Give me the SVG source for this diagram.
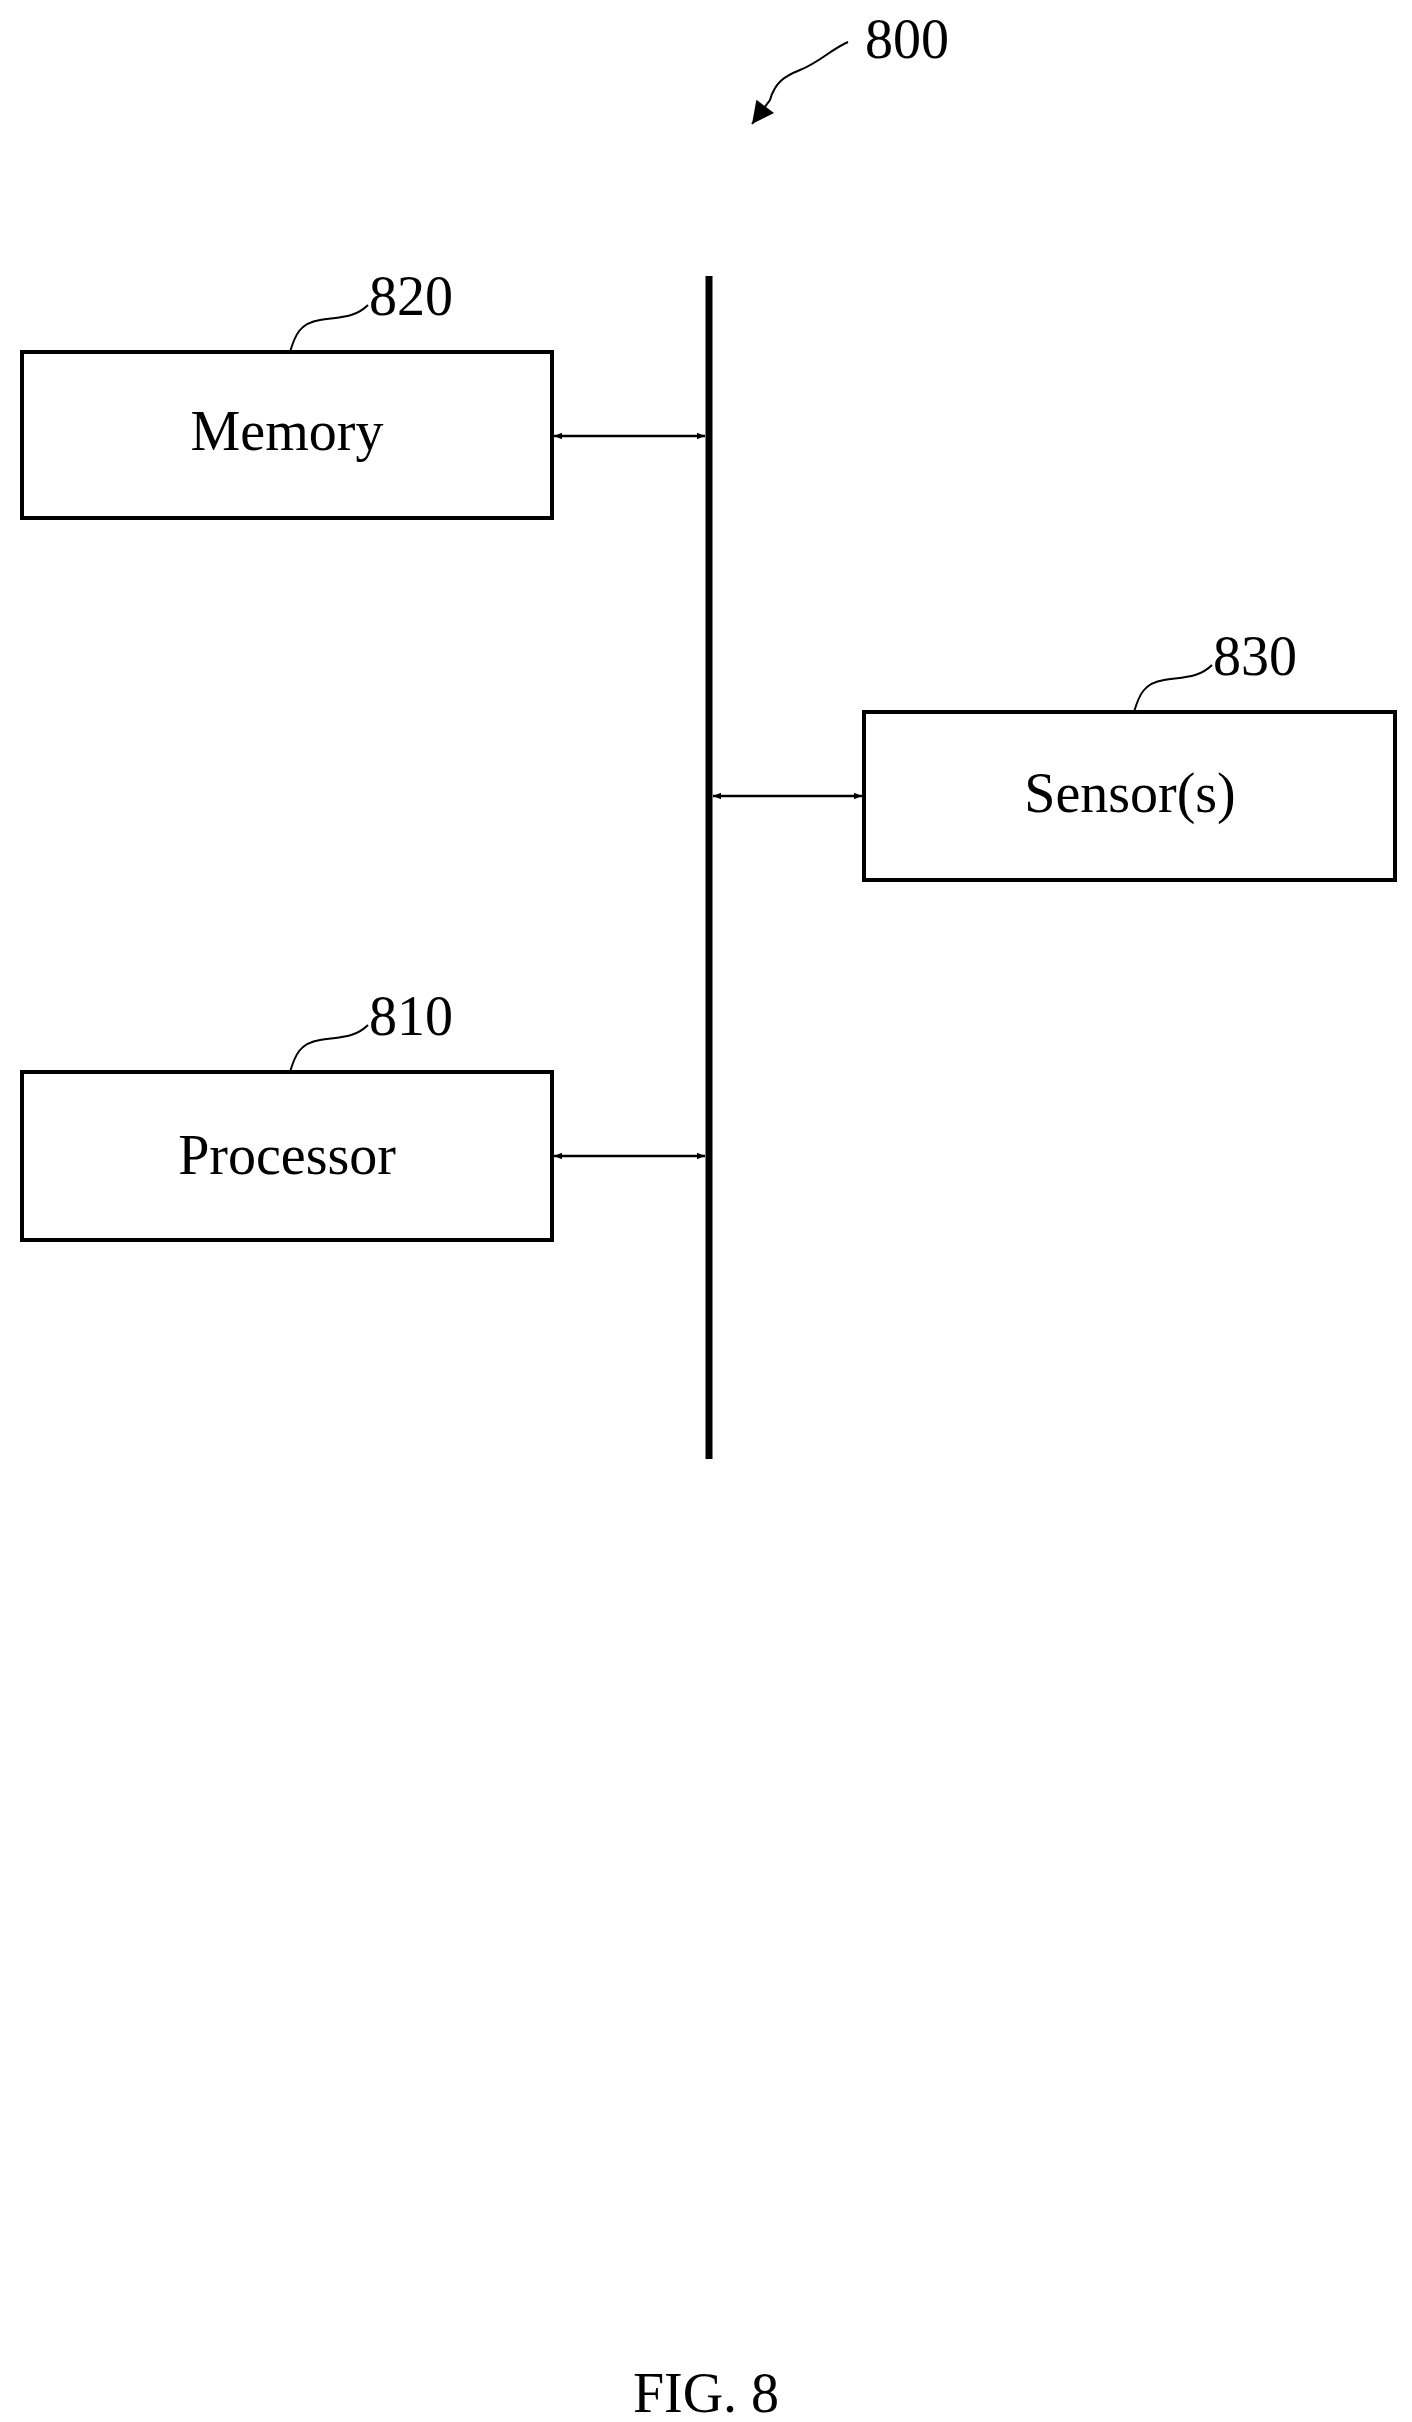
<svg xmlns="http://www.w3.org/2000/svg" width="1412" height="2422" viewBox="0 0 1412 2422">
<style>
.box{fill:#fff;stroke:#000;stroke-width:4}
.t{font-family:"Liberation Serif",serif;font-size:56px;fill:#000}
.lead{fill:none;stroke:#000;stroke-width:2}
.con{stroke:#000;stroke-width:2.5;marker-start:url(#ah);marker-end:url(#ah)}
</style>
<defs>
<marker id="ah" viewBox="0 0 10 10" refX="10" refY="5" markerWidth="12" markerHeight="8" markerUnits="userSpaceOnUse" orient="auto-start-reverse"><path d="M0,1 L10,5 L0,9 Z" fill="#000"/></marker>
<marker id="big" viewBox="0 0 10 10" refX="10" refY="5" markerWidth="30" markerHeight="22" markerUnits="userSpaceOnUse" orient="auto"><path d="M0,0 L10,5 L0,10 Z" fill="#000"/></marker>
</defs>
<rect width="1412" height="2422" fill="#fff"/>
<g id="ref800">
<path class="lead" d="M848,42 C830,50 820,62 800,70 C785,76 775,82 770,100 L752,124" marker-end="url(#big)"/>
<text class="t" x="865" y="58">800</text>
</g>
<g id="bus"><line x1="709" y1="276" x2="709" y2="1459" stroke="#000" stroke-width="7"/></g>
<g id="memory">
<rect class="box" x="22" y="352" width="530" height="166"/>
<text class="t" x="287" y="450" text-anchor="middle">Memory</text>
<path class="lead" d="M290,352 C295,335 300,323 320,320 C340,317 355,318 368,305"/>
<text class="t" x="369" y="315">820</text>
</g>
<g id="sensors">
<rect class="box" x="864" y="712" width="531" height="168"/>
<text class="t" x="1130" y="812" text-anchor="middle">Sensor(s)</text>
<path class="lead" d="M1134,712 C1139,695 1144,683 1164,680 C1184,677 1199,678 1212,665"/>
<text class="t" x="1213" y="675">830</text>
</g>
<g id="processor">
<rect class="box" x="22" y="1072" width="530" height="168"/>
<text class="t" x="287" y="1174" text-anchor="middle">Processor</text>
<path class="lead" d="M290,1072 C295,1055 300,1043 320,1040 C340,1037 355,1038 368,1025"/>
<text class="t" x="369" y="1035">810</text>
</g>
<g id="connectors">
<line class="con" x1="554" y1="436" x2="705" y2="436"/>
<line class="con" x1="713" y1="796" x2="862" y2="796"/>
<line class="con" x1="554" y1="1156" x2="705" y2="1156"/>
</g>
<text class="t" x="706" y="2412" text-anchor="middle" font-size="64">FIG. 8</text>
</svg>
